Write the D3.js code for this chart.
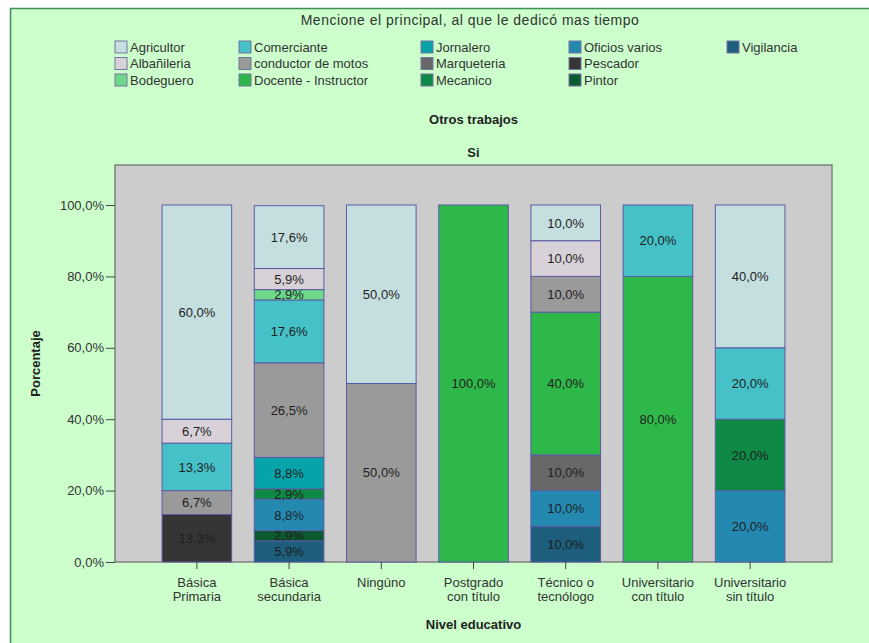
<!DOCTYPE html>
<html>
<head>
<meta charset="utf-8">
<script src="https://cdn.jsdelivr.net/npm/d3@7"></script>
<style>
  body { margin: 0; background: #fff; }
  text { font-family: "Liberation Sans", Arial, sans-serif; }
</style>
</head>
<body>
<svg id="chart" width="869" height="643"></svg>
<script>
// categorias del eje x (lineas de cada etiqueta)
var niveles = ["Básica Primaria", "Básica secundaria", "Ningúno", "Postgrado con título",
    "Técnico o tecnólogo", "Universitario con título", "Universitario sin título"];
var nivelLineas = [["Básica", "Primaria"], ["Básica", "secundaria"], ["Ningúno"], ["Postgrado", "con título"],
    ["Técnico o", "tecnólogo"], ["Universitario", "con título"], ["Universitario", "sin título"]];

var ocupaciones = ["Agricultor", "Albañileria", "Bodeguero", "Comerciante", "conductor de motos",
    "Docente - Instructor", "Jornalero", "Marqueteria", "Mecanico", "Oficios varios",
    "Pescador", "Pintor", "Vigilancia"];

var colores = ["#c5dfe0", "#d8d2d8", "#6cd98a", "#45c1c7", "#9a9a9a", "#2fb84a", "#06a3a9",
    "#686868", "#0e8a46", "#2389b0", "#353535", "#0b5a30", "#1c5e7b"];

// porcentajes por nivel educativo, en el orden de "niveles"
var agricultor  = [60.0, 17.6, 50.0, 0, 10.0, 0, 40.0];
var albanileria = [6.7, 5.9, 0, 0, 10.0, 0, 0];
var bodeguero   = [0, 2.9, 0, 0, 0, 0, 0];
var comerciante = [13.3, 17.6, 0, 0, 0, 20.0, 20.0];
var conductor   = [6.7, 26.5, 50.0, 0, 10.0, 0, 0];
var docente     = [0, 0, 0, 100.0, 40.0, 80.0, 0];
var jornalero   = [0, 8.8, 0, 0, 0, 0, 0];
var marqueteria = [0, 0, 0, 0, 10.0, 0, 0];
var mecanico    = [0, 2.9, 0, 0, 0, 0, 20.0];
var oficios     = [0, 8.8, 0, 0, 10.0, 0, 20.0];
var pescador    = [13.3, 0, 0, 0, 0, 0, 0];
var pintor      = [0, 2.9, 0, 0, 0, 0, 0];
var vigilancia  = [0, 5.9, 0, 0, 10.0, 0, 0];

var series = [agricultor, albanileria, bodeguero, comerciante, conductor, docente, jornalero,
    marqueteria, mecanico, oficios, pescador, pintor, vigilancia];

var yTicks = [0, 20, 40, 60, 80, 100];

var svg = d3.select("#chart");

// fondo general
svg.append("rect")
    .attr("x", 10.5).attr("y", 8.5)
    .attr("width", 870).attr("height", 650)
    .attr("fill", "#ccffcc")
    .attr("stroke", "#3f8f55")
    .attr("stroke-width", 1.5);

var plot = { left: 115, right: 832, top: 165, bottom: 562 };

var x = d3.scaleBand().domain(niveles).range([plot.left + 36, plot.right - 36]).paddingInner(0.245).paddingOuter(0.12);
var y = d3.scaleLinear().domain([0, 100]).range([plot.bottom, 205]);

// tabla para d3.stack
var tabla = niveles.map(function(n, i) {
    var row = { nivel: n };
    ocupaciones.forEach(function(o, j) { row[o] = series[j][i]; });
    return row;
});
var color = d3.scaleOrdinal().domain(ocupaciones).range(colores);
var stack = d3.stack().keys(ocupaciones.slice().reverse());
var capas = stack(tabla);

// area del grafico
svg.append("rect")
    .attr("x", plot.left).attr("y", plot.top)
    .attr("width", plot.right - plot.left).attr("height", plot.bottom - plot.top)
    .attr("fill", "#cccccc")
    .attr("stroke", "#6a6a6a")
    .attr("stroke-width", 1.2);

var capa = svg.selectAll("g.capa")
    .data(capas)
    .enter().append("g")
    .attr("class", "capa")
    .attr("fill", function(d) { return color(d.key); });

capa.selectAll("rect")
    .data(function(d) { return d.filter(function(s) { return s[1] - s[0] > 0; }); })
    .enter().append("rect")
    .attr("x", function(d) { return x(d.data.nivel); })
    .attr("y", function(d) { return y(d[1]); })
    .attr("width", x.bandwidth())
    .attr("height", function(d) { return y(d[0]) - y(d[1]); })
    .attr("stroke", "#5b5ba6")
    .attr("stroke-width", 1);

var fmt = function(v) { return v.toFixed(1).replace(".", ",") + "%"; };

capa.selectAll("text")
    .data(function(d) { return d.filter(function(s) { return s[1] - s[0] > 0; }); })
    .enter().append("text")
    .attr("x", function(d) { return x(d.data.nivel) + x.bandwidth() / 2; })
    .attr("y", function(d) { return (y(d[0]) + y(d[1])) / 2; })
    .attr("dy", "0.36em")
    .attr("text-anchor", "middle")
    .attr("font-size", 13)
    .attr("fill", "#1e1e1e")
    .text(function(d) { return fmt(d[1] - d[0]); });

// ejes
var yAxis = d3.axisLeft(y).tickValues(yTicks).tickSize(9).tickFormat(function(d) { return d.toFixed(1).replace(".", ",") + "%"; });
var gy = svg.append("g").attr("transform", "translate(" + plot.left + ",0)").call(yAxis);
gy.select(".domain").remove();
gy.selectAll("line").attr("stroke", "#444");
gy.selectAll("text").attr("font-size", 13).attr("fill", "#333").attr("x", -11);

var xAxis = d3.axisBottom(x).tickSize(7).tickFormat("");
var gx = svg.append("g").attr("transform", "translate(0," + plot.bottom + ")").call(xAxis);
gx.select(".domain").remove();
gx.selectAll("line").attr("stroke", "#444");

svg.selectAll("text.xlab")
    .data(niveles)
    .enter().append("text")
    .attr("class", "xlab")
    .attr("x", function(d) { return x(d) + x.bandwidth() / 2; })
    .attr("y", 587)
    .attr("text-anchor", "middle")
    .attr("font-size", 13)
    .attr("fill", "#333")
    .each(function(d, i) {
        var t = d3.select(this);
        nivelLineas[i].forEach(function(l, k) {
            t.append("tspan").attr("x", x(d) + x.bandwidth() / 2).attr("dy", k === 0 ? 0 : 14).text(l);
        });
    });

// titulos
var centro = (plot.left + plot.right) / 2;
svg.append("text").text("Nivel educativo")
    .attr("x", centro).attr("y", 629)
    .attr("text-anchor", "middle").attr("font-size", 13).attr("font-weight", "bold").attr("fill", "#222");

svg.append("text").text("Porcentaje")
    .attr("text-anchor", "middle").attr("font-size", 13).attr("font-weight", "bold").attr("fill", "#222")
    .attr("transform", "translate(40," + ((plot.top + plot.bottom) / 2) + ") rotate(-90)");

svg.append("text").text("Si")
    .attr("x", centro).attr("y", 157)
    .attr("text-anchor", "middle").attr("font-size", 13).attr("font-weight", "bold").attr("fill", "#222");

svg.append("text").text("Otros trabajos")
    .attr("x", centro).attr("y", 124)
    .attr("text-anchor", "middle").attr("font-size", 13).attr("font-weight", "bold").attr("fill", "#222");

svg.append("text").text("Mencione el principal, al que le dedicó mas tiempo")
    .attr("x", 470).attr("y", 25)
    .attr("text-anchor", "middle").attr("font-size", 14).attr("letter-spacing", 0.5).attr("fill", "#333");

// leyenda
var colX = [115, 239, 421, 569, 727];
var leyenda = svg.selectAll("g.ley")
    .data(ocupaciones)
    .enter().append("g")
    .attr("class", "ley")
    .attr("transform", function(d, i) {
        var col = Math.floor(i / 3), row = i % 3;
        if (i === 12) { col = 4; row = 0; }
        return "translate(" + colX[col] + "," + (41 + row * 16.5) + ")";
    });

leyenda.append("rect")
    .attr("width", 12).attr("height", 12)
    .attr("fill", function(d) { return color(d); })
    .attr("stroke", "#7474a0");

leyenda.append("text")
    .attr("x", 15).attr("y", 6).attr("dy", "0.36em")
    .attr("font-size", 13).attr("fill", "#333")
    .text(function(d) { return d; });
</script>
</body>
</html>
